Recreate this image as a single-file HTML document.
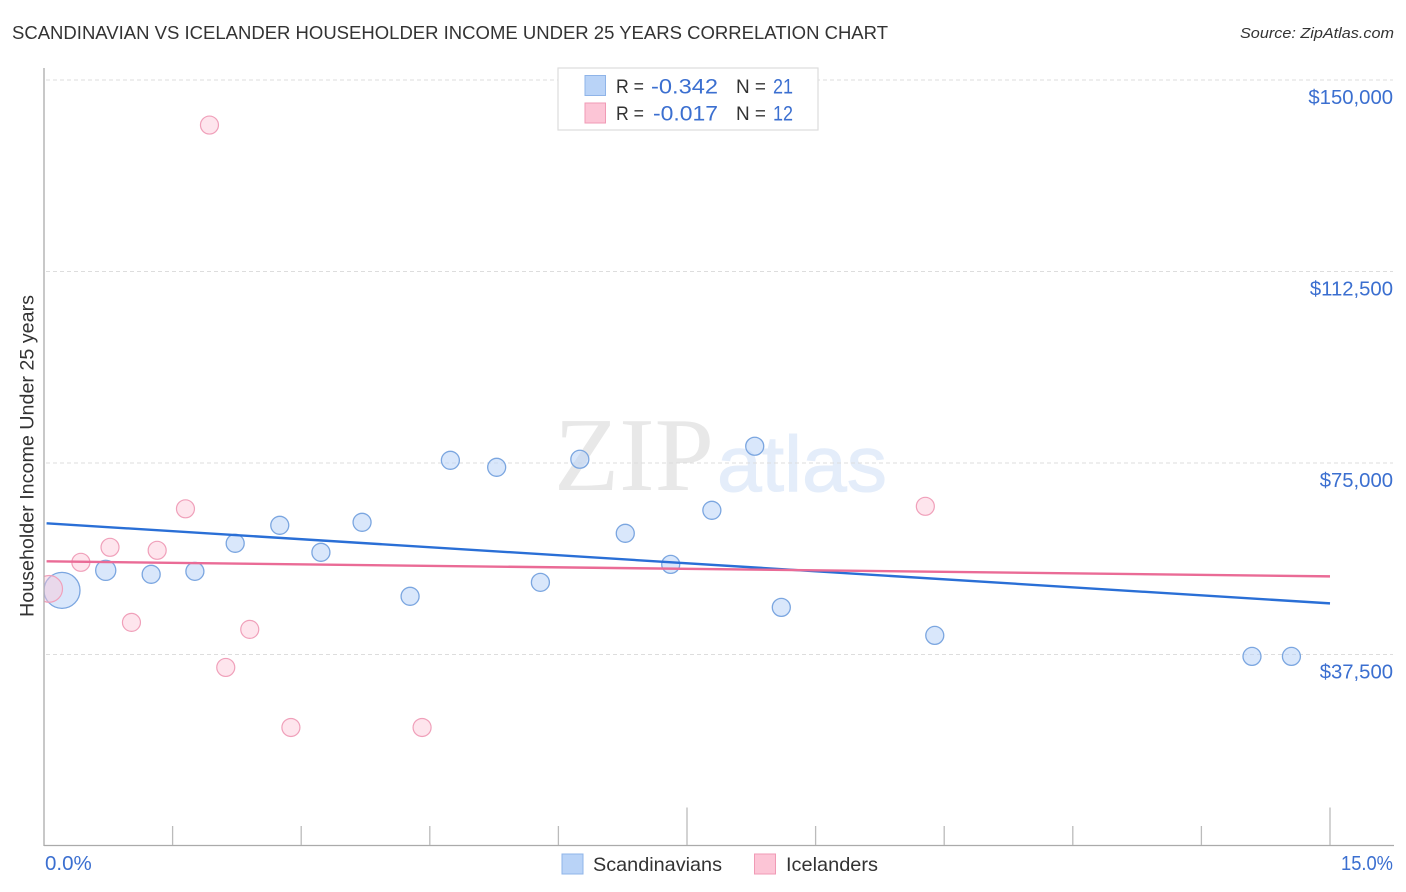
<!DOCTYPE html>
<html lang="en">
<head>
<meta charset="utf-8">
<title>Scandinavian vs Icelander Householder Income Under 25 Years Correlation Chart</title>
<style>
  html, body { margin: 0; padding: 0; background: #ffffff; }
  body { width: 1406px; height: 892px; overflow: hidden; }
  svg { display: block; }
  text { font-family: "Liberation Sans", sans-serif; }
</style>
</head>
<body>
<svg id="chart" xmlns="http://www.w3.org/2000/svg" width="1406" height="892" viewBox="0 0 1406 892">
  <defs>
    <clipPath id="plot-clip"><rect x="44.5" y="60" width="1350" height="785"></rect></clipPath>
  </defs>

  <text x="12" y="39" font-size="18.5" fill="#333333" textLength="876" lengthAdjust="spacingAndGlyphs">SCANDINAVIAN VS ICELANDER HOUSEHOLDER INCOME UNDER 25 YEARS CORRELATION CHART</text>
  <text x="1394" y="38" font-size="15" font-style="italic" fill="#333333" text-anchor="end" textLength="154" lengthAdjust="spacingAndGlyphs">Source: ZipAtlas.com</text>

  <g>
    <text x="554" y="490" font-size="105" fill="#e8e8e8" textLength="160" lengthAdjust="spacingAndGlyphs" style="font-family:'Liberation Serif',serif">ZIP</text>
    <text x="717" y="491" font-size="79" fill="#e4edfa" stroke="#e4edfa" stroke-width="1" textLength="170" lengthAdjust="spacingAndGlyphs">atlas</text>
  </g>

  <g id="grid"></g>
  <g id="axes"></g>
  <g id="series-blue" clip-path="url(#plot-clip)"></g>
  <g id="series-pink" clip-path="url(#plot-clip)"></g>
  <g id="trends"></g>
  <g id="y-labels"></g>

  <text transform="translate(33.5,456) rotate(-90)" font-size="19" fill="#333333" text-anchor="middle" textLength="322" lengthAdjust="spacingAndGlyphs">Householder Income Under 25 years</text>

  <text x="45" y="870" font-size="20.5" fill="#3b6fd0">0.0%</text>
  <text x="1341" y="870" font-size="20.5" fill="#3b6fd0" textLength="52" lengthAdjust="spacingAndGlyphs">15.0%</text>

  <g>
    <rect x="558" y="68" width="260" height="62" fill="#ffffff" stroke="#dddddd" stroke-width="1.2"></rect>
    <rect x="585" y="75.5" width="20.5" height="20" fill="#b9d3f7" stroke="#8fb4e8" stroke-width="1"></rect>
    <rect x="585" y="103" width="20.5" height="20" fill="#fcc5d6" stroke="#f09ab5" stroke-width="1"></rect>
    <text x="616" y="93" font-size="19" fill="#333333" textLength="28" lengthAdjust="spacingAndGlyphs">R =</text>
    <text x="651" y="93.5" font-size="21" fill="#3b6fd0" textLength="67" lengthAdjust="spacingAndGlyphs">-0.342</text>
    <text x="736" y="93" font-size="19" fill="#333333" textLength="30" lengthAdjust="spacingAndGlyphs">N =</text>
    <text x="773" y="93.5" font-size="21" fill="#3b6fd0" textLength="20" lengthAdjust="spacingAndGlyphs">21</text>
    <text x="616" y="120" font-size="19" fill="#333333" textLength="28" lengthAdjust="spacingAndGlyphs">R =</text>
    <text x="653" y="120.5" font-size="21" fill="#3b6fd0" textLength="65" lengthAdjust="spacingAndGlyphs">-0.017</text>
    <text x="736" y="120" font-size="19" fill="#333333" textLength="30" lengthAdjust="spacingAndGlyphs">N =</text>
    <text x="773" y="120.5" font-size="21" fill="#3b6fd0" textLength="20" lengthAdjust="spacingAndGlyphs">12</text>
  </g>

  <g>
    <rect x="562" y="854" width="21" height="20" fill="#b9d3f7" stroke="#8fb4e8" stroke-width="1"></rect>
    <text x="593" y="871" font-size="19.5" fill="#333333" textLength="129" lengthAdjust="spacingAndGlyphs">Scandinavians</text>
    <rect x="754.500" y="854" width="21" height="20" fill="#fcc5d6" stroke="#f09ab5" stroke-width="1"></rect>
    <text x="786" y="871" font-size="19.5" fill="#333333" textLength="92" lengthAdjust="spacingAndGlyphs">Icelanders</text>
  </g>
</svg>

<script>
// Chart data (x = percent, y = dollars)
var yTickValues = [150000, 112500, 75000, 37500];
var yTickLabels = ["$150,000", "$112,500", "$75,000", "$37,500"];
var xTickValues = [0, 1.5, 3, 4.5, 6, 7.5, 9, 10.5, 12, 13.5, 15];
var xMajorTicks = [7.5, 15];

var blueX = [0.21, 0.72, 1.25, 1.76, 2.23, 2.75, 3.23, 3.71, 4.27, 4.74, 5.28, 5.79, 6.25, 6.78, 7.31, 7.79, 8.29, 8.60, 10.39, 14.09, 14.55];
var blueY = [50060, 53980, 53200, 53780, 59270, 62800, 57510, 63390, 48890, 75530, 74160, 51630, 75730, 61230, 55150, 65740, 78280, 46730, 41240, 37130, 37130];
var blueWeight = [4, 1.25, 1, 1, 1, 1, 1, 1, 1, 1, 1, 1, 1, 1, 1, 1, 1, 1, 1, 1, 1];

var pinkX = [0.06, 0.43, 0.77, 1.02, 1.32, 1.65, 1.93, 2.12, 2.40, 2.88, 4.41, 10.28];
var pinkY = [50350, 55550, 58490, 43790, 57900, 66030, 141180, 34970, 42420, 23210, 23210, 66520];
var pinkWeight = [2.2, 1, 1, 1, 1, 1, 1, 1, 1, 1, 1, 1];

var trendX = [0.03, 15];
var blueTrend = [63190, 47510];
var pinkTrend = [55740, 52800];

// Axis functions
function xScale(v) { return 44 + v * (1330 - 44) / 15; }
function yScale(v) { return 80 + (150000 - v) * (654.5 - 80) / 112500; }
function rScale(w) { return 9 * Math.sqrt(w); }

var NS = "http://www.w3.org/2000/svg";
function make(tag, attrs, parent) {
  var el = document.createElementNS(NS, tag);
  for (var k in attrs) { el.setAttribute(k, attrs[k]); }
  parent.appendChild(el);
  return el;
}

var gridG = document.getElementById("grid");
var axesG = document.getElementById("axes");
var labelG = document.getElementById("y-labels");
var blueG = document.getElementById("series-blue");
var pinkG = document.getElementById("series-pink");
var trendG = document.getElementById("trends");

yTickValues.forEach(function (v, i) {
  var y = yScale(v);
  var line = make("line", { x1: 46, x2: 1393, y1: y, y2: y, stroke: "#dddddd", "stroke-width": 1, "stroke-dasharray": "4 3" }, gridG);
  
  
  var label = make("text", { x: 1393, y: y + 24, "font-size": 20.3, fill: "#3b6fd0", "text-anchor": "end" }, labelG);
  label.textContent = yTickLabels[i];
  
  
});

var yAxis = make("line", { x1: 44, x2: 44, y1: 68, y2: 846, stroke: "#aaaaaa", "stroke-width": 1.3 }, axesG);


var xAxis = make("line", { x1: 44, x2: 1394, y1: 845.5, y2: 845.5, stroke: "#aaaaaa", "stroke-width": 1.3 }, axesG);



xTickValues.forEach(function (v) {
  if (v === 0) { return; }
  var x = xScale(v);
  var top = xMajorTicks.indexOf(v) >= 0 ? 807.5 : 826;
  var tick = make("line", { x1: x, x2: x, y1: top, y2: 845, stroke: "#bbbbbb", "stroke-width": 1.3 }, axesG);
  
  
});

blueX.forEach(function (v, i) {
  var dot = make("circle", { cx: xScale(v), cy: yScale(blueY[i]), r: rScale(blueWeight[i]), fill: "#b9d3f7", "fill-opacity": 0.55, stroke: "#7ba6e0", "stroke-width": 1.3 }, blueG);
  
  
});

pinkX.forEach(function (v, i) {
  var dot = make("circle", { cx: xScale(v), cy: yScale(pinkY[i]), r: rScale(pinkWeight[i]), fill: "#fcc5d6", "fill-opacity": 0.45, stroke: "#f0a0ba", "stroke-width": 1.2 }, pinkG);
  
  
});

var blueLine = make("line", { x1: xScale(trendX[0]), y1: yScale(blueTrend[0]), x2: xScale(trendX[1]), y2: yScale(blueTrend[1]), stroke: "#2a6fd6", "stroke-width": 2.4 }, trendG);


var pinkLine = make("line", { x1: xScale(trendX[0]), y1: yScale(pinkTrend[0]), x2: xScale(trendX[1]), y2: yScale(pinkTrend[1]), stroke: "#ea6b96", "stroke-width": 2.4 }, trendG);


</script>
</body>
</html>
